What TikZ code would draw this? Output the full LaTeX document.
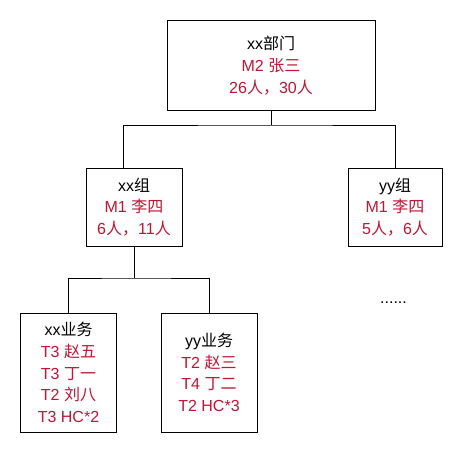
\documentclass[tikz,border=0pt]{standalone}
\usepackage{fontspec}
\setmainfont{Liberation Sans}
\newfontfamily\cjk{Noto Sans CJK SC}
\definecolor{hred}{RGB}{190,22,52}
\tikzset{
  unit/.style={draw=black, line width=1pt, align=center, inner sep=0pt,
    font=\fontsize{16}{21.6}\selectfont},
  link/.style={draw=black, line width=1pt}
}
\newcommand{\rl}[1]{\textcolor{hred}{#1}}
\newcommand{\zh}[1]{{\cjk #1}}
\begin{document}
\begin{tikzpicture}[x=1pt,y=-1pt]
  \useasboundingbox (0,0) rectangle (465,453);
  \fill[white] (0,0) rectangle (465,453);

  % department
  \node[unit, minimum width=208pt, minimum height=90pt] (dept) at (271,65.5)
    {xx\zh{部门}\\\rl{M2 \zh{张三}}\\\rl{26\zh{人，}30\zh{人}}};

  % groups
  \node[unit, minimum width=96pt, minimum height=78pt] (xxg) at (134,207)
    {xx\zh{组}\\\rl{M1 \zh{李四}}\\\rl{6\zh{人，}11\zh{人}}};
  \node[unit, minimum width=94pt, minimum height=78pt] (yyg) at (395,207)
    {yy\zh{组}\\\rl{M1 \zh{李四}}\\\rl{5\zh{人，}6\zh{人}}};

  % businesses
  \node[unit, minimum width=96pt, minimum height=119pt] (xxb) at (68.5,372.5)
    {xx\zh{业务}\\\rl{T3 \zh{赵五}}\\\rl{T3 \zh{丁一}}\\\rl{T2 \zh{刘八}}\\\rl{T3 HC*2}};
  \node[unit, minimum width=96pt, minimum height=119pt] (yyb) at (209,372.5)
    {yy\zh{业务}\\\rl{T2 \zh{赵三}}\\\rl{T4 \zh{丁二}}\\\rl{T2 HC*3}};

  \node[anchor=base west, inner sep=0pt, font=\fontsize{16}{18}\selectfont] (more) at (380,303.5) {......};

  % connectors
  \coordinate (bus1) at (271,125);
  \coordinate (bus2) at (134,278);
  \draw[link] (dept.south) -- (bus1);
  \draw[link] ([xshift=-11pt]xxg.north) |- (bus1) -| (yyg.north);
  \draw[link] (xxg.south) -- (bus2);
  \draw[link] (xxb.north) |- (bus2) -| (yyb.north);
\end{tikzpicture}
\end{document}
